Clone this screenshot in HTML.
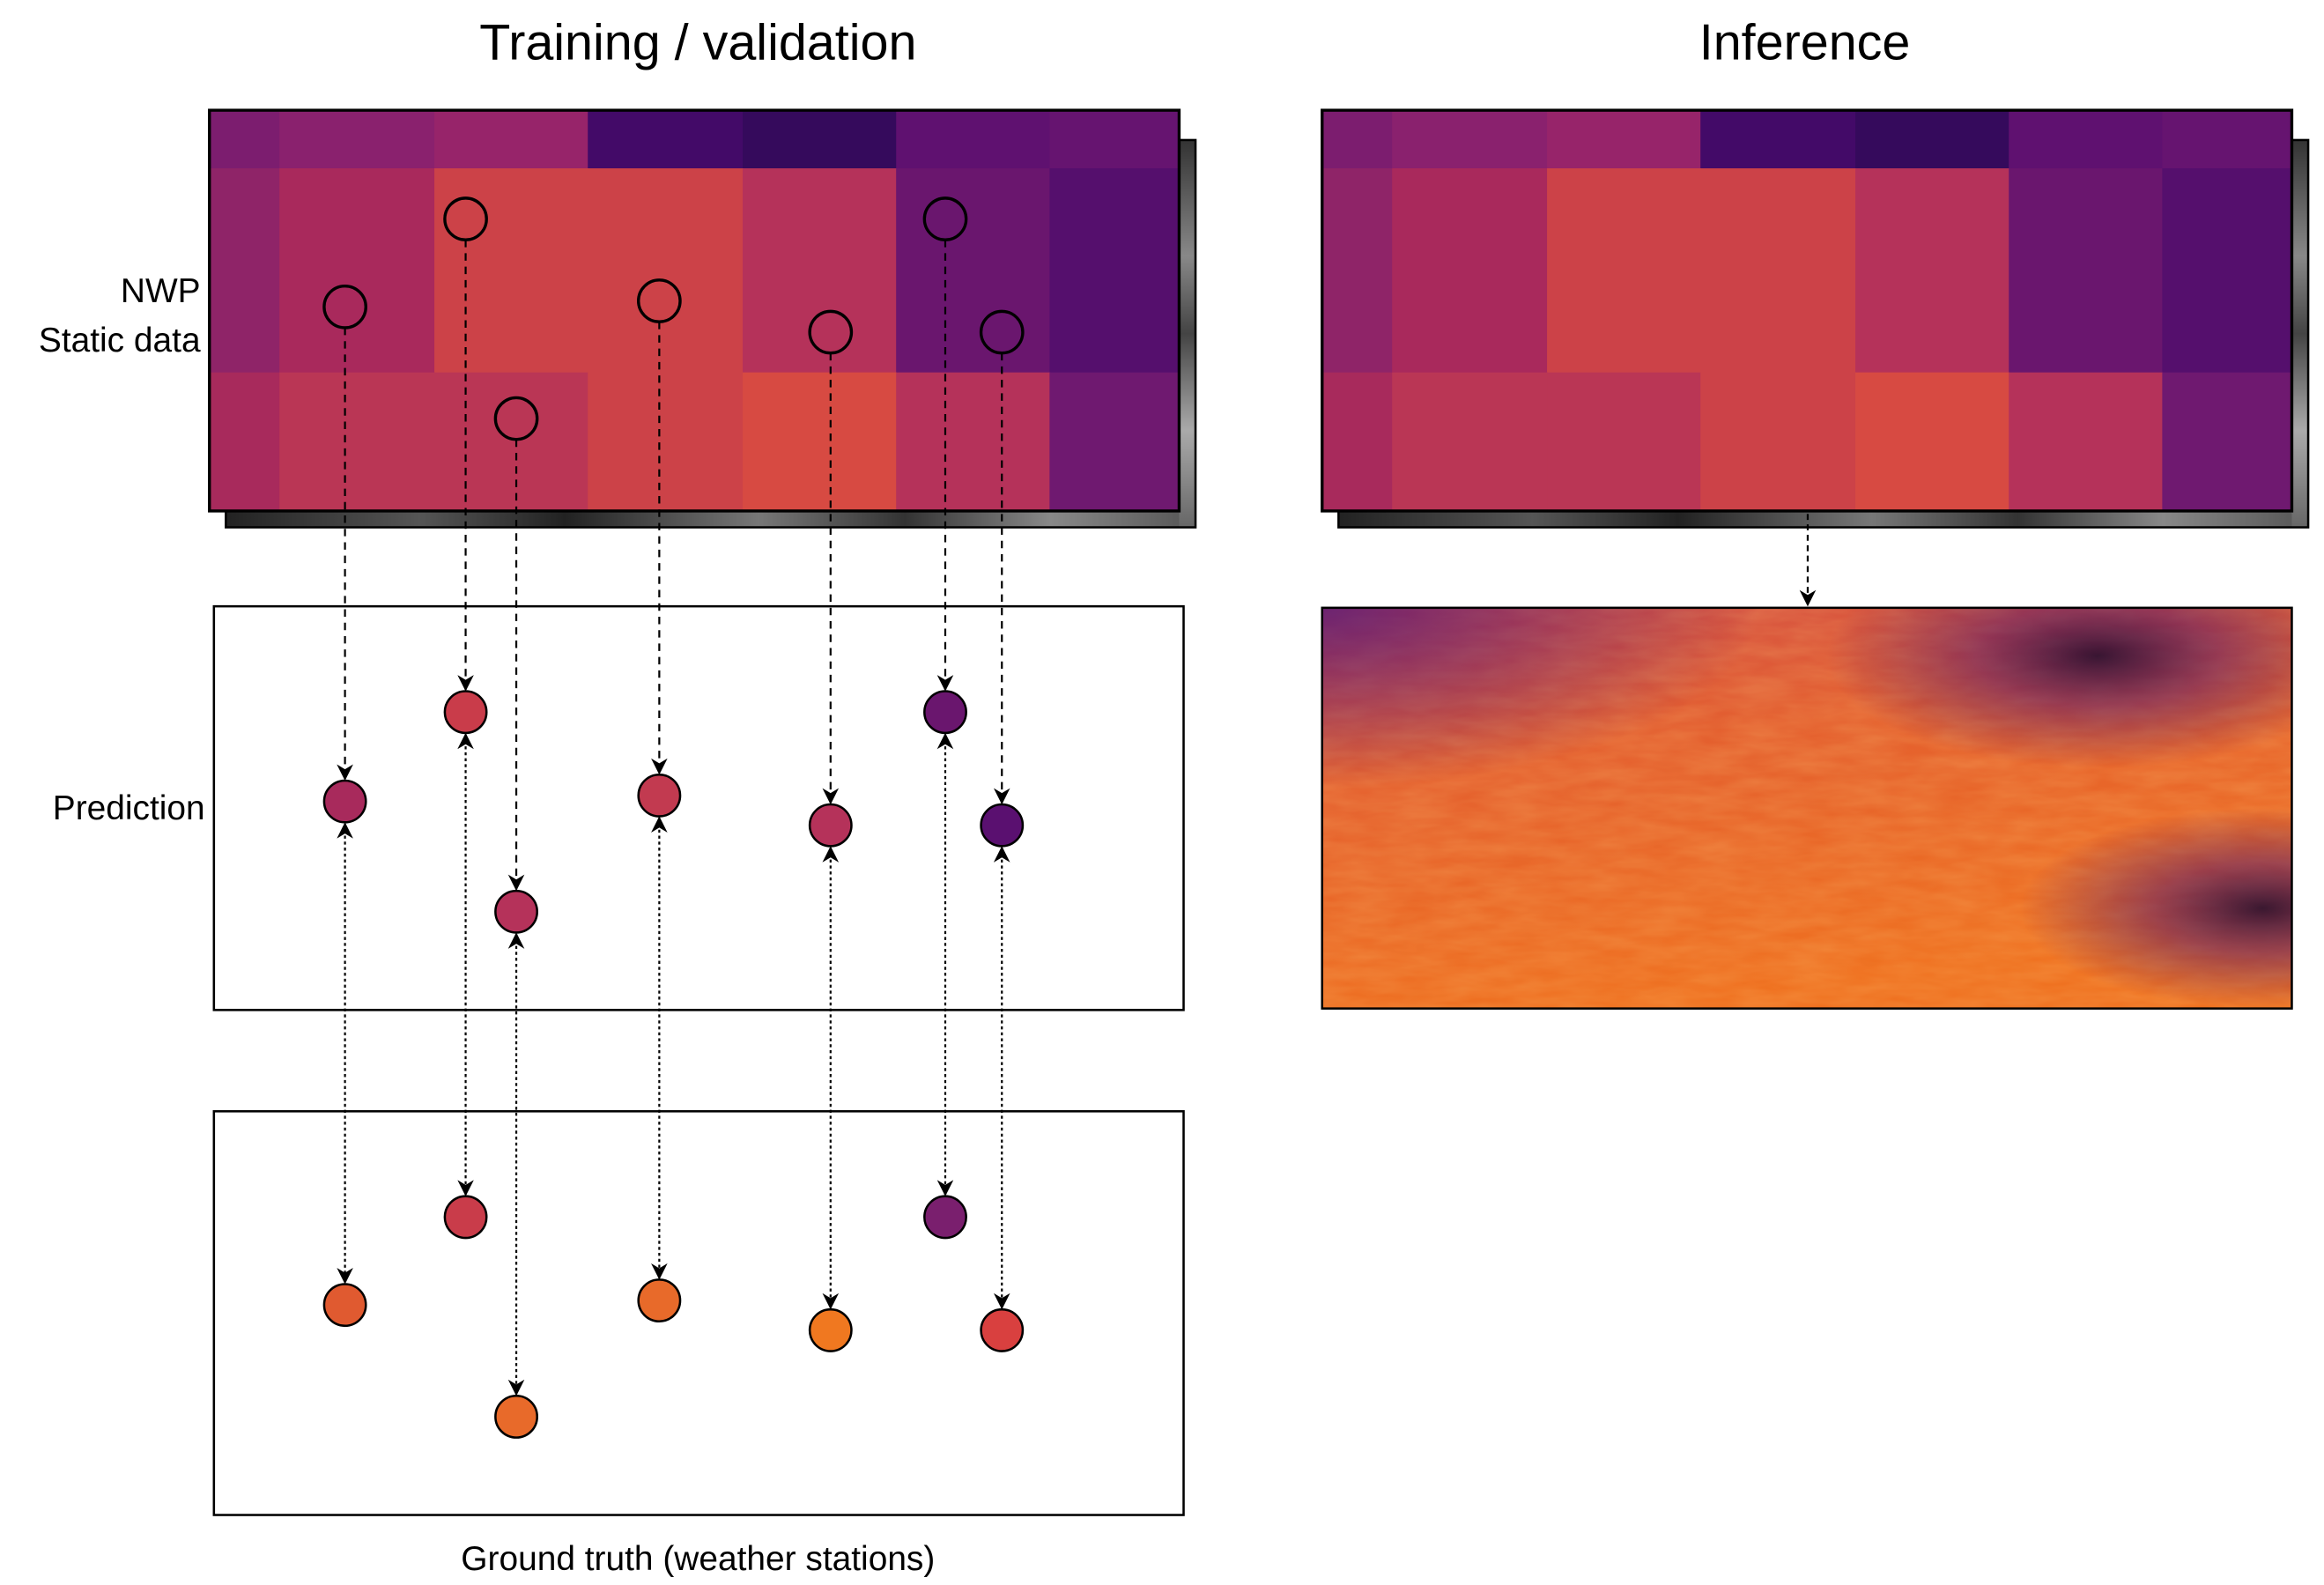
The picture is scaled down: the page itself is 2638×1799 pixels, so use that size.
<!DOCTYPE html>
<html><head><meta charset="utf-8">
<style>
html,body{margin:0;padding:0;background:#fff;}
svg{display:block;font-family:"Liberation Sans",Arial,sans-serif;}
</style></head>
<body>
<svg id="fig" width="2638" height="1799" viewBox="0 0 1559 1064" xmlns="http://www.w3.org/2000/svg">
<defs>
  <marker id="ah" viewBox="0 0 10 10" refX="9" refY="5" markerWidth="11" markerHeight="11" orient="auto-start-reverse" markerUnits="userSpaceOnUse">
    <path d="M0,0 L10,5 L0,10 L3,5 z" fill="#000"/>
  </marker>
  <linearGradient id="shadowg" x1="0" x2="1" y1="0" y2="0">
    <stop offset="0" stop-color="#222"/><stop offset="0.2" stop-color="#555"/><stop offset="0.35" stop-color="#222"/><stop offset="0.55" stop-color="#777"/><stop offset="0.7" stop-color="#333"/><stop offset="0.85" stop-color="#888"/><stop offset="1" stop-color="#555"/>
  </linearGradient>
  <linearGradient id="shadowv" x1="0" x2="0" y1="0" y2="1">
    <stop offset="0" stop-color="#333"/><stop offset="0.3" stop-color="#888"/><stop offset="0.5" stop-color="#444"/><stop offset="0.75" stop-color="#aaa"/><stop offset="1" stop-color="#666"/>
  </linearGradient>
  <radialGradient id="pTL" cx="0" cy="0" r="0.45"><stop offset="0" stop-color="#5a1a78" stop-opacity="0.85"/><stop offset="1" stop-color="#5a1a78" stop-opacity="0"/></radialGradient>
  <radialGradient id="pTR" cx="0.8" cy="0.12" r="0.28"><stop offset="0" stop-color="#1a0630" stop-opacity="0.85"/><stop offset="0.45" stop-color="#4a1070" stop-opacity="0.5"/><stop offset="1" stop-color="#4a1070" stop-opacity="0"/></radialGradient>
  <radialGradient id="pBR" cx="0.97" cy="0.75" r="0.25"><stop offset="0" stop-color="#1a0630" stop-opacity="0.85"/><stop offset="0.45" stop-color="#4a1070" stop-opacity="0.5"/><stop offset="1" stop-color="#4a1070" stop-opacity="0"/></radialGradient>
  <linearGradient id="baseg" x1="0" y1="0" x2="0.3" y2="1"><stop offset="0" stop-color="#d04a44"/><stop offset="0.4" stop-color="#e4602f"/><stop offset="1" stop-color="#ef7120"/></linearGradient>
  <filter id="noise" filterUnits="userSpaceOnUse" x="887" y="408" width="651" height="269"><feTurbulence type="fractalNoise" baseFrequency="0.03 0.12" numOctaves="3" seed="4"/><feColorMatrix values="0 0 0 0 1  0 0 0 0 0.6  0 0 0 0 0.2  0 0 0 0.3 -0.05"/></filter>
  <clipPath id="hmclip"><rect x="887" y="408" width="651" height="269"/></clipPath>
</defs>

<text x="468" y="40" font-size="34" text-anchor="middle">Training / validation</text>
<text x="1211" y="40" font-size="34" text-anchor="middle">Inference</text>
<text x="134" y="203" font-size="23" text-anchor="end">NWP</text>
<text x="134" y="236" font-size="23" text-anchor="end">Static data</text>
<text x="137" y="550" font-size="23" text-anchor="end">Prediction</text>
<text x="468" y="1054" font-size="23" text-anchor="middle">Ground truth (weather stations)</text>

<g id="gridL"></g>
<g id="gridR"></g>

<rect x="143" y="407" width="651" height="271" fill="none" stroke="#000" stroke-width="1.5"/>
<rect x="143" y="746" width="651" height="271" fill="none" stroke="#000" stroke-width="1.5"/>

<g clip-path="url(#hmclip)">
  <rect x="887" y="408" width="651" height="269" fill="url(#baseg)"/>
  <rect x="887" y="408" width="651" height="269" filter="url(#noise)"/>
  <rect x="887" y="408" width="651" height="269" fill="url(#pTL)"/>
  <rect x="887" y="408" width="651" height="269" fill="url(#pTR)"/>
  <rect x="887" y="408" width="651" height="269" fill="url(#pBR)"/>
</g>
<rect x="887" y="408" width="651" height="269" fill="none" stroke="#000" stroke-width="1.5"/>
<line x1="1213" y1="345" x2="1213" y2="406" stroke="#000" stroke-width="1.3" stroke-dasharray="4,3" marker-end="url(#ah)"/>

<g id="stations"></g>
</svg>

<script>
var NS = "http://www.w3.org/2000/svg";
var gridCols = [0, 47, 151, 254, 358, 461, 564, 651];
var gridRows = [0, 39, 176, 269];
var gridColors = [
  ["#7c1d6f","#8a216e","#97246a","#430a68","#350a5c","#5f1170","#661470"],
  ["#8f2468","#a9295c","#cc4248","#cc4248","#b5325a","#6a166e","#550f6d"],
  ["#a82a5c","#ba3655","#ba3655","#cc4248","#d74a42","#b5325a","#6f1970"]
];
var stationX = [231, 312, 346, 442, 557, 634, 672];
var nwpY = [206, 147, 281, 202, 223, 147, 223];
var predY = [538, 478, 612, 534, 554, 478, 554];
var gtY = [876, 817, 951, 873, 893, 817, 893];
var predColors = ["#a82a5c","#c93c4a","#b5325a","#c23a50","#b5325a","#6a166e","#5a1070"];
var gtColors = ["#e05a30","#c93c4a","#e86a2a","#e86a2a","#f07820","#7a1f6e","#d9403f"];
var R = 14;

function mk(tag, attrs, parent){
  var e = document.createElementNS(NS, tag);
  for (var k in attrs) { e.setAttribute(k, attrs[k]); }
  parent.appendChild(e);
  return e;
}

function drawGrid(g, x0, y0){
  var W = gridCols[gridCols.length-1], H = gridRows[gridRows.length-1];
  var sh = mk("rect",{x:x0+11,y:y0+H,width:W,height:11,fill:"url(#shadowg)"},g);
  
  
  var sv = mk("rect",{x:x0+W,y:y0+20,width:11,height:H-9,fill:"url(#shadowv)"},g);
  
  
  mk("rect",{x:x0+11,y:y0+20,width:W,height:H-9,fill:"none",stroke:"#000","stroke-width":1.5},g);
  for (var r=0;r<gridColors.length;r++){
    for (var c=0;c<gridColors[r].length;c++){
      var cell = mk("rect",{x:x0+gridCols[c],y:y0+gridRows[r],width:gridCols[c+1]-gridCols[c]+0.5,height:gridRows[r+1]-gridRows[r]+0.5,fill:gridColors[r][c]},g);
      
      
    }
  }
  mk("rect",{x:x0,y:y0,width:W,height:H,fill:"none",stroke:"#000","stroke-width":2},g);
}
drawGrid(document.getElementById("gridL"),140,74);
drawGrid(document.getElementById("gridR"),887,74);

var sg = document.getElementById("stations");
for (var i=0;i<stationX.length;i++){
  var x = stationX[i];
  var d = mk("line",{x1:x,y1:nwpY[i]+R,x2:x,y2:predY[i]-R-1,stroke:"#000","stroke-width":1.3,"stroke-dasharray":"5,4","marker-end":"url(#ah)"},sg);
  
  
  var v = mk("line",{x1:x,y1:predY[i]+R+1,x2:x,y2:gtY[i]-R-1,stroke:"#000","stroke-width":1.3,"stroke-dasharray":"2,2","marker-start":"url(#ah)","marker-end":"url(#ah)"},sg);
  
  
  var c0 = mk("circle",{cx:x,cy:nwpY[i],r:R,fill:"none",stroke:"#000","stroke-width":2},sg);
  
  
  var c1 = mk("circle",{cx:x,cy:predY[i],r:R,fill:predColors[i],stroke:"#000","stroke-width":1.5},sg);
  
  
  var c2 = mk("circle",{cx:x,cy:gtY[i],r:R,fill:gtColors[i],stroke:"#000","stroke-width":1.5},sg);
  
  
}
</script>
</body></html>
